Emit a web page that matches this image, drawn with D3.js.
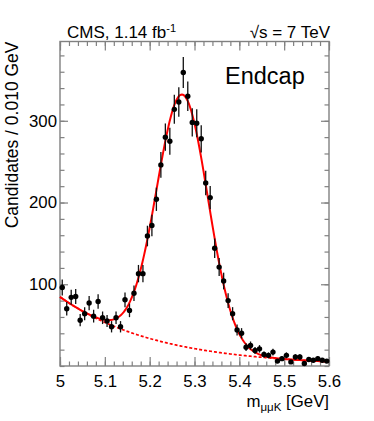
<!DOCTYPE html>
<html>
<head>
<meta charset="utf-8">
<script src="https://cdn.jsdelivr.net/npm/d3@7"></script>
<style>
  body { margin: 0; background: #fff; }
  svg { display: block; font-family: "Liberation Sans", Arial, Helvetica, sans-serif; }
</style>
</head>
<body>
<svg id="chart" width="374" height="421"></svg>
<script>
// bin centres of 0.010 GeV bins from 5.00 to 5.60
const binLow = 5.0;
const binWidth = 0.01;
const counts = [
  96, 70, 84, 85, 56, 64, 77, 61, 79, 59,
  55, 48, 59, 48, 81, 68, 89, 113, 113, 159,
  172, 204, 246, 280, 275, 314, 323, 359, 330, 298,
  297, 278, 224, 206, 144, 121, 104, 80, 64, 44,
  40, 23, 25, 19, 21, 14, 13, 17, 6, 9,
  13, 5, 11, 11, 3, 8, 7, 9, 7, 6
];

// fit results: gaussian signal [mean, sigma, height], exponential background [value at 5 GeV, slope]
const signalFit = [5.273, 0.057, 308];
const backgroundFit = [84.5, 4.6];

const xMajorTicks = [5, 5.1, 5.2, 5.3, 5.4, 5.5, 5.6];
const yMajorTicks = [100, 200, 300];

const W = 374;
const H = 421;
const frameL = 60, frameR = 329, frameT = 41.5, frameB = 366;
const RED = "#ff0000";
const FRAME = "#808080";

const svg = d3.select("#chart");
svg.append("rect").attr("width", W).attr("height", H).attr("fill", "#fff");

const x = d3.scaleLinear().domain([5, 5.6]).range([frameL, frameR]);
const y = d3.scaleLinear().domain([0, 397]).range([frameB, frameT]);

const background = (m) => backgroundFit[0] * Math.exp(-backgroundFit[1] * (m - binLow));
const signal = (m) =>
  signalFit[2] * Math.exp(-((m - signalFit[0]) ** 2) / (2 * signalFit[1] ** 2));
const total = (m) => signal(m) + background(m);

const xMinor = d3.range(0, 31).map((i) => 5 + i * 0.02);
const yMinor = d3.range(0, 20).map((i) => i * 20);

// axes, ROOT style: ticks inside and mirrored on the opposite sides
const styleAxis = (g) => {
  g.select(".domain").remove();
  g.selectAll(".tick line").attr("stroke", FRAME).attr("stroke-width", 1.2);
  g.selectAll(".tick text")
    .attr("fill", "#000")
    .style("font-size", "16.8px")
    .style("font-family", "Liberation Sans, Arial, Helvetica, sans-serif");
};

svg.append("g")
  .attr("transform", `translate(0,${frameB})`)
  .call(d3.axisBottom(x).tickValues(xMinor).tickFormat("").tickSizeInner(-4.5).tickSizeOuter(0))
  .call(styleAxis);
svg.append("g")
  .attr("transform", `translate(0,${frameB})`)
  .call(
    d3.axisBottom(x)
      .tickValues(xMajorTicks)
      .tickFormat((d) => String(+d.toFixed(1)))
      .tickSizeInner(-9)
      .tickSizeOuter(0)
      .tickPadding(9)
  )
  .call(styleAxis);

svg.append("g")
  .attr("transform", `translate(0,${frameT})`)
  .call(d3.axisTop(x).tickValues(xMinor).tickFormat("").tickSizeInner(-4.5).tickSizeOuter(0))
  .call(styleAxis);
svg.append("g")
  .attr("transform", `translate(0,${frameT})`)
  .call(d3.axisTop(x).tickValues(xMajorTicks).tickFormat("").tickSizeInner(-9).tickSizeOuter(0))
  .call(styleAxis);

svg.append("g")
  .attr("transform", `translate(${frameL},0)`)
  .call(d3.axisLeft(y).tickValues(yMinor).tickFormat("").tickSizeInner(-4.5).tickSizeOuter(0))
  .call(styleAxis);
svg.append("g")
  .attr("transform", `translate(${frameL},0)`)
  .call(d3.axisLeft(y).tickValues(yMajorTicks).tickSizeInner(-8).tickSizeOuter(0).tickPadding(3))
  .call(styleAxis);

svg.append("g")
  .attr("transform", `translate(${frameR},0)`)
  .call(d3.axisRight(y).tickValues(yMinor).tickFormat("").tickSizeInner(-4.5).tickSizeOuter(0))
  .call(styleAxis);
svg.append("g")
  .attr("transform", `translate(${frameR},0)`)
  .call(d3.axisRight(y).tickValues(yMajorTicks).tickFormat("").tickSizeInner(-8).tickSizeOuter(0))
  .call(styleAxis);

svg.append("rect")
  .attr("x", frameL)
  .attr("y", frameT)
  .attr("width", frameR - frameL)
  .attr("height", frameB - frameT)
  .attr("fill", "none")
  .attr("stroke", FRAME)
  .attr("stroke-width", 1.4);

// fit curves
const grid = d3.range(0, 301).map((i) => 5 + i * 0.002);
const line = d3.line().x((d) => x(d[0])).y((d) => y(d[1]));

svg.append("path")
  .datum(grid.map((m) => [m, background(m)]))
  .attr("d", line)
  .attr("fill", "none")
  .attr("stroke", RED)
  .attr("stroke-width", 1.7)
  .attr("stroke-dasharray", "3,2");

svg.append("path")
  .datum(grid.map((m) => [m, total(m)]))
  .attr("d", line)
  .attr("fill", "none")
  .attr("stroke", RED)
  .attr("stroke-width", 2);

// data points with poisson errors
const points = counts.map((n, i) => ({ m: binLow + (i + 0.5) * binWidth, n: n, err: Math.sqrt(n) }));
const pts = svg.append("g");

pts.selectAll("line")
  .data(points)
  .join("line")
  .attr("x1", (d) => x(d.m))
  .attr("x2", (d) => x(d.m))
  .attr("y1", (d) => y(d.n - d.err))
  .attr("y2", (d) => y(d.n + d.err))
  .attr("stroke", "#111")
  .attr("stroke-width", 1.3);

pts.selectAll("circle")
  .data(points)
  .join("circle")
  .attr("cx", (d) => x(d.m))
  .attr("cy", (d) => y(d.n))
  .attr("r", 2.7)
  .attr("fill", "#000");

// labels
const lumi = svg.append("text")
  .attr("x", 67)
  .attr("y", 37.7)
  .style("font-size", "17px")
  .attr("fill", "#000");
lumi.append("tspan").text("CMS, 1.14 fb");
lumi.append("tspan").attr("dy", -6).style("font-size", "11px").text("-1");

svg.append("text")
  .attr("x", 330)
  .attr("y", 37.7)
  .attr("text-anchor", "end")
  .style("font-size", "17px")
  .attr("fill", "#000")
  .text("\u221As = 7 TeV");

svg.append("text")
  .attr("x", 225)
  .attr("y", 83.5)
  .style("font-size", "23.5px")
  .attr("fill", "#000")
  .text("Endcap");

const xTitle = svg.append("text")
  .attr("x", 329)
  .attr("y", 406.7)
  .attr("text-anchor", "end")
  .style("font-size", "16.8px")
  .attr("fill", "#000");
xTitle.append("tspan").text("m");
xTitle.append("tspan").attr("dy", 4).style("font-size", "11.5px").text("\u03BC\u03BCK");
xTitle.append("tspan").attr("dy", -4).text(" [GeV]");

svg.append("text")
  .attr("transform", `translate(18,${frameT}) rotate(-90)`)
  .attr("text-anchor", "end")
  .style("font-size", "17.5px")
  .attr("fill", "#000")
  .text("Candidates / 0.010 GeV");
</script>
</body>
</html>
